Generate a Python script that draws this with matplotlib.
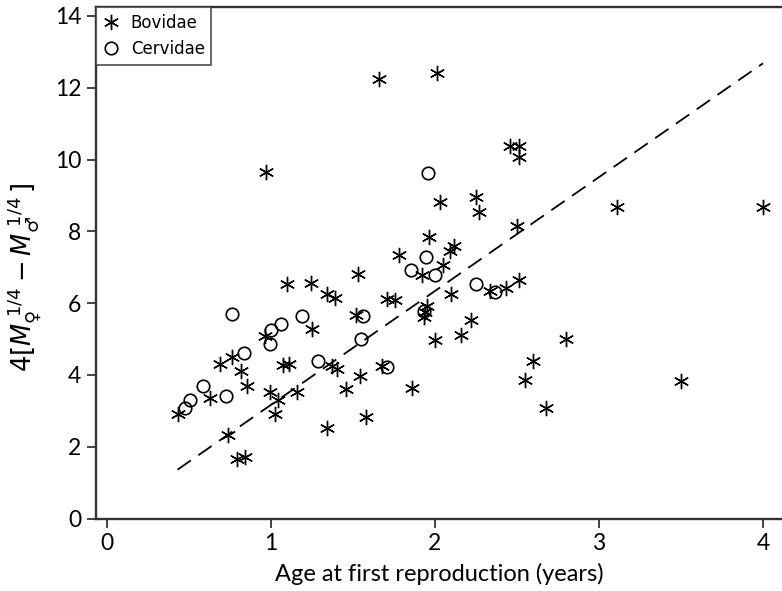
import matplotlib
matplotlib.use("Agg")
import matplotlib.pyplot as plt

# Bovidae (age at first reproduction, growth term)
bov_x = [0.435, 0.63, 0.69, 0.74, 0.76, 0.79, 0.84, 0.82, 0.855, 0.97, 0.965, 0.995,
         1.045, 1.025, 1.075, 1.11, 1.10, 1.16, 1.245, 1.248, 1.34, 1.39, 1.34, 1.37,
         1.40, 1.46, 1.53, 1.52, 1.54, 1.58, 1.66, 1.675, 1.71, 1.755, 1.78, 1.86,
         1.92, 1.93, 1.94, 1.95, 1.965, 2.0, 2.01, 2.03, 2.05, 2.09, 2.115, 2.10,
         2.16, 2.22, 2.25, 2.27, 2.335, 2.43, 2.46, 2.51, 2.51, 2.50, 2.51, 2.55,
         2.60, 2.675, 2.80, 3.11, 3.50, 4.0]
bov_y = [2.90, 3.36, 4.31, 2.33, 4.50, 1.65, 1.72, 4.10, 3.70, 9.65, 5.07, 3.52,
         3.29, 2.92, 4.28, 4.30, 6.52, 3.53, 6.55, 5.28, 6.24, 6.14, 2.53, 4.24,
         4.17, 3.60, 6.80, 5.67, 3.97, 2.84, 12.25, 4.26, 6.12, 6.10, 7.35, 3.64,
         6.79, 5.62, 5.75, 5.93, 7.83, 4.96, 12.42, 8.82, 7.07, 7.45, 7.58, 6.24,
         5.12, 5.52, 8.95, 8.54, 6.35, 6.43, 10.37, 10.37, 10.08, 8.14, 6.65, 3.87,
         4.38, 3.08, 5.00, 8.67, 3.84, 8.67]

# Cervidae
cer_x = [0.476, 0.506, 0.587, 0.724, 0.764, 0.835, 0.995, 1.0, 1.06, 1.19, 1.285,
         1.56, 1.55, 1.71, 1.854, 1.93, 1.945, 1.955, 2.0, 2.25, 2.366]
cer_y = [3.07, 3.31, 3.68, 3.40, 5.70, 4.62, 4.86, 5.26, 5.42, 5.65, 4.38,
         5.64, 4.99, 4.23, 6.93, 5.78, 7.28, 9.63, 6.79, 6.54, 6.30]

# dashed fit line
fit_x = [0.43, 4.0]
fit_y = [1.36, 12.68]

x_ticks = [0, 1, 2, 3, 4]
y_ticks = [0, 2, 4, 6, 8, 10, 12, 14]

W, H = 782, 591
fig = plt.figure(figsize=(W / 100, H / 100), dpi=100)
ax = fig.add_axes([95.7 / W, 1 - 518.5 / H, 1 - 95.7 / W, (518.5 - 7.3) / H])

spine_col = "#333333"
ax.plot(fit_x, fit_y, color="black", lw=1.3, dashes=(9, 5), zorder=2)
ax.plot(bov_x, bov_y, linestyle="none", marker=(6, 2, 0), markersize=11,
        markeredgewidth=1.0, color="black", label="Bovidae", zorder=3)
ax.plot(cer_x, cer_y, linestyle="none", marker="o", markersize=9,
        markerfacecolor="none", markeredgewidth=1.2, markeredgecolor="black",
        label="Cervidae", zorder=3)

ax.set_xlim(-0.069, 4.116)
ax.set_ylim(0, 14.24)
ax.set_xticks(x_ticks)
ax.set_yticks(y_ticks)

for s in ["left", "bottom", "top"]:
    ax.spines[s].set_linewidth(1.7)
    ax.spines[s].set_color(spine_col)
ax.spines["right"].set_visible(False)
ax.tick_params(direction="out", length=6.5, width=1.3, color=spine_col,
               labelsize=16.5, pad=4)
for lab in ax.get_xticklabels() + ax.get_yticklabels():
    lab.set_family("Lato")

ax.set_xlabel("Age at first reproduction (years)", fontsize=17, family="Lato",
              labelpad=6)
ax.set_ylabel(r"$4[M_{\mathrm{♀}}^{\;1/4}-M_{\mathrm{♂}}^{\;1/4}\,]$", fontsize=18.5)
ax.yaxis.set_label_coords(-0.077, 0.472)

leg = ax.legend(loc="upper left", borderaxespad=0, frameon=True, fancybox=False,
                prop={"family": "DejaVu Sans", "size": 12}, handlelength=1.0,
                handletextpad=0.7, borderpad=0.4, labelspacing=0.5)
leg.get_frame().set_edgecolor(spine_col)
leg.get_frame().set_linewidth(1.3)

fig.savefig("out.png", dpi=100)
